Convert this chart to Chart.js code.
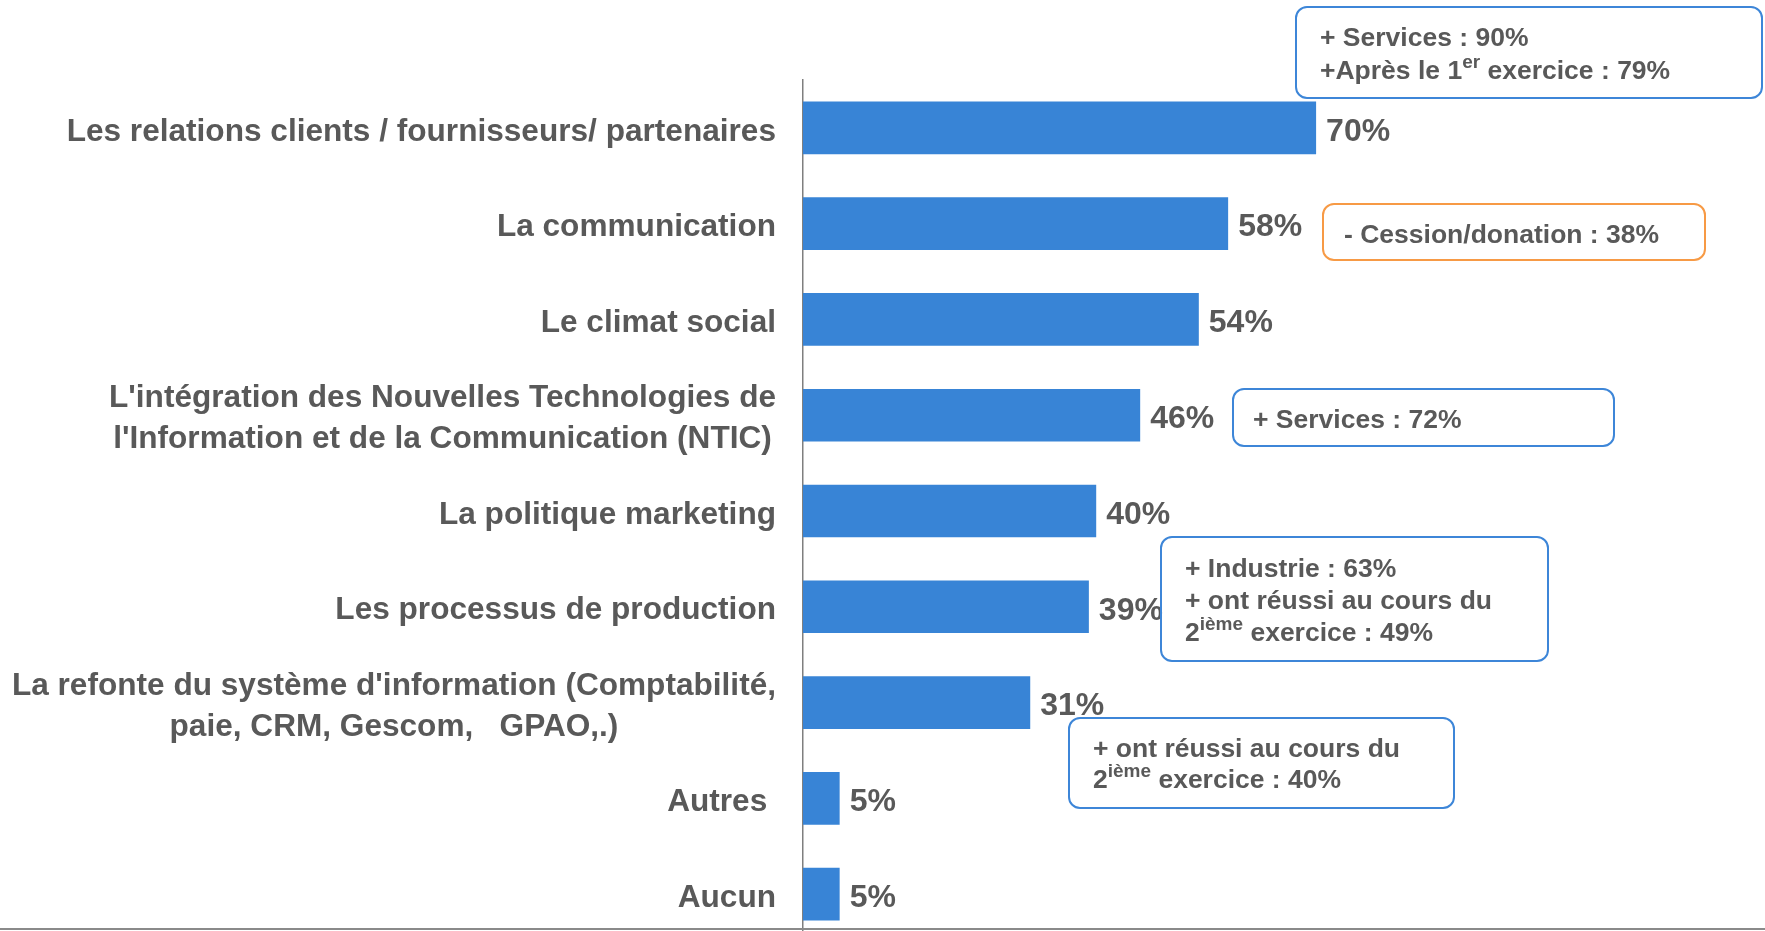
<!DOCTYPE html>
<html lang="fr">
<head>
<meta charset="utf-8">
<title>Domaines</title>
<script src="https://cdn.jsdelivr.net/npm/chart.js@4/dist/chart.umd.min.js"></script>
<style>
    html, body { margin: 0; padding: 0; overflow: hidden; background: #fff; }
    #cadre { width: 1765px; height: 960px; }
</style>
</head>
<body>
<div id="cadre"><canvas id="graficoDomaines" width="1765" height="960"></canvas></div>
<script>
const categories = [
    "Les relations clients / fournisseurs/ partenaires",
    "La communication",
    "Le climat social",
    ["L'intégration des Nouvelles Technologies de", "l'Information et de la Communication (NTIC)"],
    "La politique marketing",
    "Les processus de production",
    ["La refonte du système d'information (Comptabilité,", "paie, CRM, Gescom,   GPAO,.)"],
    "Autres ",
    "Aucun"
];
const valeurs = [70, 58, 54, 46, 40, 39, 31, 5, 5];
const etiquettesValeurs = ["70%", "58%", "54%", "46%", "40%", "39%", "31%", "5%", "5%"];

// texte des encadrés (segments, sup = exposant)
const notesTexte = [
    [[{ t: "+ Services : 90%" }], [{ t: "+Après le 1" }, { t: "er", sup: true }, { t: " exercice : 79%" }]],
    [[{ t: "- Cession/donation : 38%" }]],
    [[{ t: "+ Services : 72%" }]],
    [[{ t: "+ Industrie : 63%" }], [{ t: "+ ont réussi au cours du" }], [{ t: "2" }, { t: "ième", sup: true }, { t: " exercice : 49%" }]],
    [[{ t: "+ ont réussi au cours du" }], [{ t: "2" }, { t: "ième", sup: true }, { t: " exercice : 40%" }]]
];

const GRIS = "#595959";
const BLEU = "#3884D6";
const BLEU_CADRE = "#3D86D8";
const ORANGE = "#F79A45";
const POLICE = '"Liberation Sans", Arial, sans-serif';

// position des encadrés: x, y, largeur, hauteur, couleur, x texte, lignes de base
const notesPlace = [
    { x: 1296, y: 7, w: 466, h: 91, couleur: BLEU_CADRE, tx: 1320, bases: [46, 79] },
    { x: 1323, y: 204, w: 382, h: 56, couleur: ORANGE, tx: 1344, bases: [243] },
    { x: 1233, y: 389, w: 381, h: 57, couleur: BLEU_CADRE, tx: 1253, bases: [428] },
    { x: 1161, y: 537, w: 387, h: 124, couleur: BLEU_CADRE, tx: 1185, bases: [577, 609, 641] },
    { x: 1069, y: 718, w: 385, h: 90, couleur: BLEU_CADRE, tx: 1093, bases: [757, 788] }
];

function dessinerLigne(c, segments, x, base) {
    let px = x;
    segments.forEach(s => {
        if (s.sup) {
            c.font = "bold 19px " + POLICE;
            c.fillText(s.t, px, base - 11);
        } else {
            c.font = "bold 26.5px " + POLICE;
            c.fillText(s.t, px, base);
        }
        px += c.measureText(s.t).width;
    });
}

const etiquettes = {
    id: "etiquettes",
    afterDraw(chart) {
        const c = chart.ctx;
        const ys = chart.scales.y;
        const meta = chart.getDatasetMeta(0);
        c.save();
        c.fillStyle = GRIS;

        // catégories (lignes centrées, bloc aligné à droite)
        c.font = "bold 31.6px " + POLICE;
        c.textBaseline = "middle";
        c.textAlign = "center";
        categories.forEach((lab, i) => {
            const lignes = Array.isArray(lab) ? lab : [lab];
            const yc = ys.getPixelForTick(i);
            const w = Math.max(...lignes.map(l => c.measureText(l).width));
            lignes.forEach((l, k) => {
                c.fillText(l, 776 - w / 2, yc + 4 + (k - (lignes.length - 1) / 2) * 41);
            });
        });

        // valeurs
        c.font = "bold 32px " + POLICE;
        c.textAlign = "left";
        meta.data.forEach((barre, i) => {
            c.fillText(etiquettesValeurs[i], barre.x + 10, barre.y + 4);
        });

        // ligne du bas
        c.strokeStyle = "#8a8a8a";
        c.lineWidth = 2;
        c.beginPath();
        c.moveTo(0, 929);
        c.lineTo(chart.width, 929);
        c.stroke();

        // encadrés
        c.textBaseline = "alphabetic";
        notesPlace.forEach((n, i) => {
            c.strokeStyle = n.couleur;
            c.lineWidth = 2;
            c.beginPath();
            c.roundRect(n.x, n.y, n.w, n.h, 11);
            c.stroke();
            notesTexte[i].forEach((ligne, k) => dessinerLigne(c, ligne, n.tx, n.bases[k]));
        });
        c.restore();
    }
};

const ctx = document.getElementById("graficoDomaines").getContext("2d");

new Chart(ctx, {
    type: "bar",
    data: {
        labels: categories,
        datasets: [{
            data: valeurs,
            backgroundColor: BLEU,
            barPercentage: 0.55,
            categoryPercentage: 1
        }]
    },
    options: {
        indexAxis: "y",
        responsive: false,
        animation: false,
        layout: { padding: { top: 80, bottom: 18, left: 0, right: 229 } },
        plugins: {
            legend: { display: false },
            tooltip: { enabled: false }
        },
        scales: {
            x: { display: false, min: 0, max: 100 },
            y: {
                ticks: { display: false },
                grid: { display: false },
                border: { display: true, color: "#7f7f7f", width: 1.5 },
                afterFit(s) { s.width = 803; }
            }
        }
    },
    plugins: [etiquettes]
});
</script>
</body>
</html>
